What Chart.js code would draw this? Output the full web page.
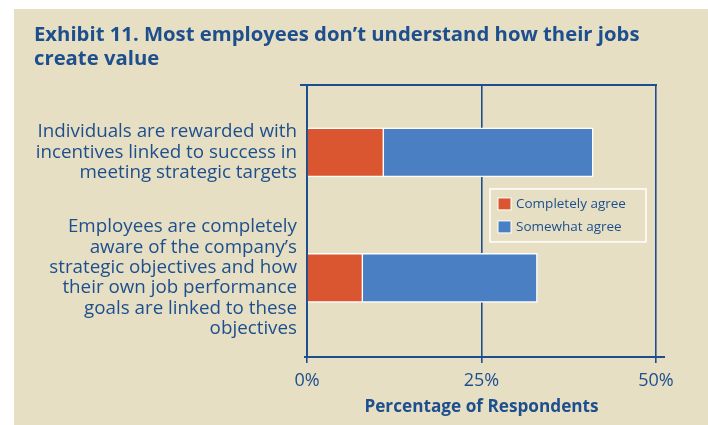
<!DOCTYPE html>
<html>
<head>
<meta charset="utf-8">
<script src="https://cdn.jsdelivr.net/npm/chart.js@4/dist/chart.umd.min.js"></script>
<style>
  html, body { margin: 0; padding: 0; background: #ffffff; }
  #wrap { width: 708px; height: 425px; }
</style>
</head>
<body>
<div id="wrap"><canvas id="c" width="708" height="425"></canvas></div>
<script>
// Survey statements (top to bottom)
const categories = [
  ["Individuals are rewarded with", "incentives linked to success in", "meeting strategic targets"],
  ["Employees are completely", "aware of the company\u2019s", "strategic objectives and how", "their own job performance", "goals are linked to these", "objectives"]
];
// Percentage of respondents
const completelyAgree = [11, 8];
const somewhatAgree = [30, 25];
const seriesNames = ["Completely agree", "Somewhat agree"];
const xTicks = [0, 25, 50];
const titleLines = ["Exhibit 11. Most employees don\u2019t understand how their jobs", "create value"];
const axisTitle = "Percentage of Respondents";

const INK = "#1d4f8e";
const BEIGE = "#e6dfc3";
const ORANGE = "#d95631";
const BLUE = "#4a80c3";

// Each statement sits at a row index on a linear scale; the first row is on top
const rowOf = i => categories.length - 1 - i;
const toPoints = vals => vals.map((v, i) => ({ x: v, y: rowOf(i) }));

const panelBackground = {
  id: "panelBackground",
  beforeDraw(chart) {
    const { ctx, width, height } = chart;
    ctx.save();
    ctx.fillStyle = "#ffffff";
    ctx.fillRect(0, 0, width, height);
    ctx.fillStyle = BEIGE;
    ctx.fillRect(14, 9, width - 14, height - 9);
    ctx.restore();
  }
};

const frameLines = {
  id: "frameLines",
  afterDraw(chart) {
    const { ctx, chartArea: a } = chart;
    ctx.save();
    ctx.strokeStyle = INK;
    ctx.lineWidth = 2;
    ctx.beginPath();
    ctx.moveTo(a.left - 7, a.top);
    ctx.lineTo(a.right + 1, a.top);
    ctx.moveTo(a.left - 3, a.bottom);
    ctx.lineTo(a.right + 9, a.bottom);
    ctx.stroke();
    ctx.restore();
  }
};

const boxedLegend = {
  id: "boxedLegend",
  afterDraw(chart) {
    const { ctx, chartArea: a } = chart;
    const bx = a.right - 166, by = a.top + 104, bw = 156, bh = 53;
    ctx.save();
    ctx.strokeStyle = "#ffffff";
    ctx.lineWidth = 1.5;
    ctx.strokeRect(bx, by, bw, bh);
    ctx.font = "13.5px 'Open Sans', sans-serif";
    ctx.textBaseline = "middle";
    chart.data.datasets.forEach((ds, i) => {
      const cy = by + 15 + i * 23;
      ctx.fillStyle = ds.backgroundColor;
      ctx.fillRect(bx + 8, cy - 6, 13, 12);
      ctx.strokeStyle = "#ffffff";
      ctx.lineWidth = 1;
      ctx.strokeRect(bx + 8, cy - 6, 13, 12);
      ctx.fillStyle = INK;
      ctx.fillText(ds.label, bx + 26, cy);
    });
    ctx.restore();
  }
};

Chart.defaults.font.family = "'Open Sans', sans-serif";
Chart.defaults.color = INK;

new Chart(document.getElementById("c"), {
  type: "bar",
  data: {
    datasets: [
      { label: seriesNames[0], data: toPoints(completelyAgree), backgroundColor: ORANGE,
        borderColor: "#ffffff", borderWidth: 1.5, barThickness: 49 },
      { label: seriesNames[1], data: toPoints(somewhatAgree), backgroundColor: BLUE,
        borderColor: "#ffffff", borderWidth: 1.5, barThickness: 49 }
    ]
  },
  options: {
    indexAxis: "y",
    responsive: false,
    animation: false,
    devicePixelRatio: 1,
    layout: { padding: { left: 34, right: 52, top: 0, bottom: 0 } },
    plugins: {
      legend: { display: false },
      tooltip: { enabled: false },
      title: {
        display: true,
        align: "start",
        text: titleLines,
        color: INK,
        font: { size: 20.3, weight: "bold", lineHeight: 1.18 },
        padding: { top: 23, bottom: 14 }
      }
    },
    scales: {
      x: {
        type: "linear",
        stacked: true,
        min: xTicks[0],
        max: xTicks[xTicks.length - 1],
        afterBuildTicks: s => { s.ticks = xTicks.map(v => ({ value: v })); },
        afterFit: s => { s.height = 68; },
        grid: { color: INK, lineWidth: 1.6, tickLength: 6, drawTicks: true },
        border: { display: false },
        ticks: { font: { size: 18 }, padding: 7, callback: v => v + "%", maxRotation: 0 },
        title: { display: true, text: axisTitle, font: { size: 17.2, weight: "bold" }, padding: { top: 4, bottom: 7.5 } }
      },
      y: {
        type: "linear",
        stacked: true,
        offset: false,
        min: -0.63,
        max: 1.537,
        afterBuildTicks: s => { s.ticks = categories.map((c, i) => ({ value: rowOf(i) })); },
        afterFit: s => { s.width = 273; },
        grid: { display: false, drawTicks: false, offset: false },
        border: { display: true, color: INK, width: 2 },
        ticks: {
          font: { size: 18.8, lineHeight: 1.09 },
          padding: 10,
          callback: v => categories[categories.length - 1 - v]
        }
      }
    }
  },
  plugins: [panelBackground, frameLines, boxedLegend]
});
</script>
</body>
</html>
